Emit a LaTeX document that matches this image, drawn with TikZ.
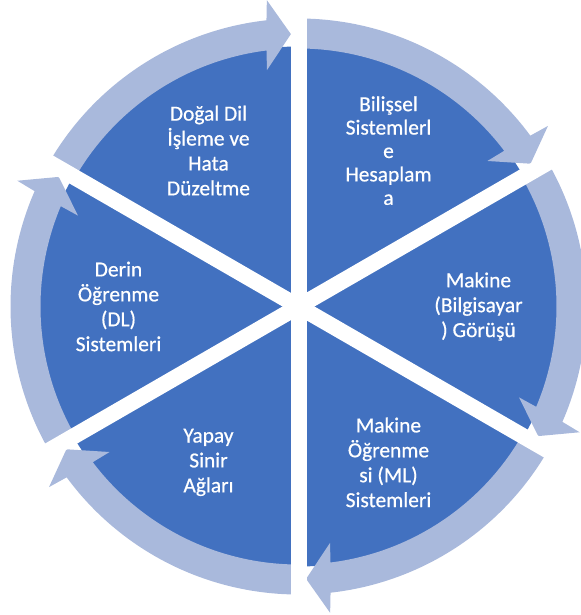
\documentclass[tikz,border=0pt]{standalone}
\usepackage{fontspec}
\setmainfont{Carlito}[FakeBold=0.6]
\definecolor{segblue}{RGB}{66,113,192}
\definecolor{arrowblue}{RGB}{169,185,220}
\begin{document}
\begin{tikzpicture}[x=1bp,y=1bp,
  seglabel/.style={text=white, align=center, inner sep=0pt, font=\fontsize{21.5}{25}\selectfont},
  gapline/.style={white, line width=16bp}]
\useasboundingbox (-298.5,-308.5) rectangle (282.5,306.5);
\fill[segblue] (0,0) circle[radius=260bp];
\foreach \b in {90,30,-30,-90,-150,150}{
  \pgfmathsetmacro{\ta}{\b+60}
  \pgfmathsetmacro{\ja}{\b+6.39}
  \pgfmathsetmacro{\oa}{\b+5.9}
  \pgfmathsetmacro{\pa}{\b+1.6}
  \pgfmathsetmacro{\ia}{\b+7.6}
  \pgfmathsetmacro{\ka}{\b+7.12}
  \fill[arrowblue] (\ta:288) arc[start angle=\ta, end angle=\ja, radius=288bp]
    -- (\oa:308) -- (\pa:272.5) -- (\ia:238.5) -- (\ka:258)
    arc[start angle=\ka, end angle=\ta, radius=258bp] -- cycle;
}
\foreach \b in {90,30,-30}{
  \pgfmathsetmacro{\ob}{\b+180}
  \draw[gapline] (\b:300) -- (\ob:300);
}
\node[seglabel] (s1) at (120:180) {Doğal Dil\\İşleme ve\\Hata\\Düzeltme};
\node[seglabel, font=\fontsize{21.5}{23.5}\selectfont] (s2) at (60:180) {Bilişsel\\Sistemlerl\\e\\Hesaplam\\a};
\node[seglabel] (s3) at (0:180) {Makine\\(Bilgisayar\\) Görüşü};
\node[seglabel] (s4) at (-60:180) {Makine\\Öğrenme\\si (ML)\\Sistemleri};
\node[seglabel] (s5) at (-120:180) {Yapay\\Sinir\\Ağları};
\node[seglabel] (s6) at (180:180) {Derin\\Öğrenme\\(DL)\\Sistemleri};
\end{tikzpicture}
\end{document}
